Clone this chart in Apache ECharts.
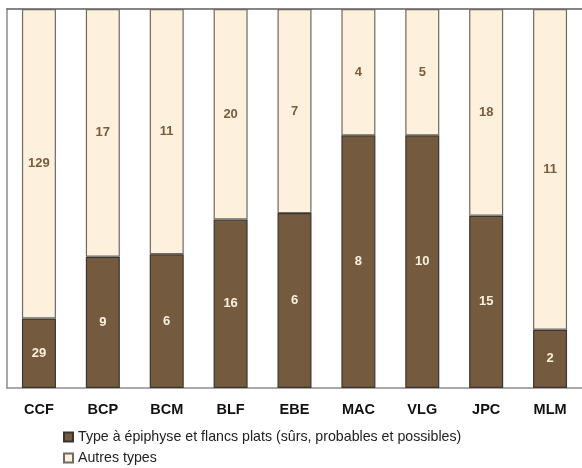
<!DOCTYPE html>
<html>
<head>
<meta charset="utf-8">
<script src="https://cdn.jsdelivr.net/npm/echarts@6/dist/echarts.min.js"></script>
<style>
  html, body { margin: 0; padding: 0; background: #fff; }
  #chart { width: 582px; height: 468px; }
</style>
</head>
<body>
<div id="chart"></div>
<script>
// Sites and counts per type
const sites = ['CCF', 'BCP', 'BCM', 'BLF', 'EBE', 'MAC', 'VLG', 'JPC', 'MLM'];
const flatCounts = [29, 9, 6, 16, 6, 8, 10, 15, 2];
const otherCounts = [129, 17, 11, 20, 7, 4, 5, 18, 11];
const seriesNames = [
  'Type à épiphyse et flancs plats (sûrs, probables et possibles)',
  'Autres types'
];

// Each bar is stacked to 100 % of its site's total
const totals = sites.map((_, i) => flatCounts[i] + otherCounts[i]);
const toShare = (counts) => counts.map((v, i) => ({ value: v / totals[i] * 100, count: v }));

const chart = echarts.init(document.getElementById('chart'));
const font = 'Liberation Sans, Arial, sans-serif';

chart.setOption({
  animation: false,
  grid: { left: 7, right: 0, top: 9, bottom: 80 },
  xAxis: [
    {
      type: 'category',
      data: sites,
      axisLine: { lineStyle: { color: '#8c8c8c', width: 1.5 } },
      axisTick: { show: false },
      axisLabel: { color: '#111', fontWeight: 'bold', fontSize: 14.5, fontFamily: font, margin: 14 }
    },
    {
      type: 'category',
      position: 'top',
      data: sites,
      axisLine: { lineStyle: { color: '#5e5e5e', width: 1.5 } },
      axisTick: { show: false },
      axisLabel: { show: false }
    }
  ],
  yAxis: {
    type: 'value',
    min: 0,
    max: 100,
    axisLine: { show: true, lineStyle: { color: '#8c8c8c', width: 1.5 } },
    axisTick: { show: false },
    axisLabel: { show: false },
    splitLine: { show: false }
  },
  legend: {
    orient: 'vertical',
    left: 63,
    top: 430,
    height: 40,
    padding: 0,
    itemWidth: 9,
    itemHeight: 9,
    itemGap: 7,
    icon: 'rect',
    textStyle: { color: '#222', fontSize: 14.2, fontFamily: font },
    data: seriesNames
  },
  series: [
    {
      name: seriesNames[0],
      type: 'bar',
      stack: 'total',
      barWidth: 34,
      data: toShare(flatCounts),
      itemStyle: { color: '#745b3f', borderColor: '#3a3530', borderWidth: 1.2 },
      label: {
        show: true,
        position: 'inside',
        color: '#fdf0dc',
        fontWeight: 'bold',
        fontSize: 13,
        fontFamily: font,
        formatter: (p) => p.data.count
      }
    },
    {
      name: seriesNames[1],
      type: 'bar',
      stack: 'total',
      barWidth: 34,
      data: toShare(otherCounts),
      itemStyle: { color: '#fdf0dc', borderColor: '#6e6a64', borderWidth: 1.2 },
      label: {
        show: true,
        position: 'inside',
        color: '#7a5c3d',
        fontWeight: 'bold',
        fontSize: 13,
        fontFamily: font,
        formatter: (p) => p.data.count
      }
    }
  ]
});
</script>
</body>
</html>
